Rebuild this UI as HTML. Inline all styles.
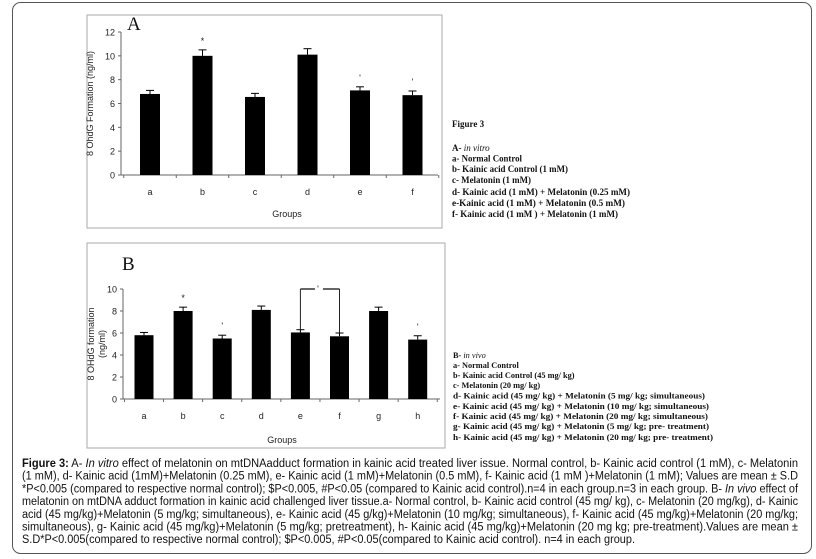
<!DOCTYPE html>
<html><head><meta charset="utf-8"><style>
html,body{margin:0;padding:0;background:#fff}
svg{display:block}
.tk{font:9px "Liberation Sans",sans-serif;fill:#222}
.lg{font:bold 8.3px "Liberation Serif",serif;fill:#111}
.la{font:bold 9px "Liberation Serif",serif;fill:#111}
.cap{font:11.5px "Liberation Sans",sans-serif;fill:#111}
</style></head><body>
<svg id="fig" width="816" height="559" viewBox="0 0 816 559" xmlns="http://www.w3.org/2000/svg">
<rect x="12.5" y="2.5" width="799" height="551" rx="8" fill="#fff" stroke="#555"/>
<rect x="87" y="15" width="355" height="213" fill="#fff" stroke="#aaa"/>
<rect x="87" y="243" width="358" height="205" fill="#fff" stroke="#aaa"/>
<g id="chartA"></g>
<g id="chartB"></g>

<g>
<text class="la" x="452" y="127">Figure 3</text>
<text class="la" x="452" y="151">A- <tspan font-style="italic" font-weight="normal">in vitro</tspan></text>
<text class="la" x="452" y="161.5" textLength="70" lengthAdjust="spacingAndGlyphs">a- Normal Control</text>
<text class="la" x="452" y="172" textLength="116" lengthAdjust="spacingAndGlyphs">b- Kainic acid Control (1 mM)</text>
<text class="la" x="452" y="183" textLength="79" lengthAdjust="spacingAndGlyphs">c- Melatonin (1 mM)</text>
<text class="la" x="452" y="195" textLength="178" lengthAdjust="spacingAndGlyphs">d- Kainic acid (1 mM) + Melatonin (0.25 mM)</text>
<text class="la" x="452" y="206" textLength="173" lengthAdjust="spacingAndGlyphs">e-Kainic acid (1 mM) + Melatonin  (0.5 mM)</text>
<text class="la" x="452" y="217" textLength="166" lengthAdjust="spacingAndGlyphs">f- Kainic acid (1 mM ) + Melatonin (1 mM)</text>
</g>
<g>
<text class="lg" x="453" y="358">B- <tspan font-style="italic" font-weight="normal">in vivo</tspan></text>
<text class="lg" x="453" y="368">a- Normal Control</text>
<text class="lg" x="453" y="378">b- Kainic acid Control (45 mg/ kg)</text>
<text class="lg" x="453" y="388">c- Melatonin (20 mg/ kg)</text>
<text class="lg" x="453" y="398.5" textLength="252" lengthAdjust="spacingAndGlyphs">d- Kainic acid (45 mg/ kg) + Melatonin (5 mg/ kg; simultaneous)</text>
<text class="lg" x="453" y="409" textLength="256" lengthAdjust="spacingAndGlyphs">e- Kainic acid (45 mg/ kg) + Melatonin (10 mg/ kg; simultaneous)</text>
<text class="lg" x="453" y="419" textLength="255" lengthAdjust="spacingAndGlyphs">f- Kainic acid (45 mg/ kg) + Melatonin (20 mg/ kg; simultaneous)</text>
<text class="lg" x="453" y="429" textLength="256" lengthAdjust="spacingAndGlyphs">g- Kainic acid (45 mg/ kg) + Melatonin (5 mg/ kg; pre- treatment)</text>
<text class="lg" x="453" y="440" textLength="260" lengthAdjust="spacingAndGlyphs">h- Kainic acid (45 mg/ kg) + Melatonin (20 mg/ kg; pre- treatment)</text>
</g>
<g>
<text class="cap" x="22" y="467" textLength="776" lengthAdjust="spacingAndGlyphs"><tspan font-weight="bold">Figure 3:</tspan> A- <tspan font-style="italic">In vitro</tspan> effect of melatonin on mtDNAadduct formation in kainic acid treated liver issue. Normal control, b- Kainic acid control (1 mM), c- Melatonin</text>
<text class="cap" x="22" y="479.7" textLength="776" lengthAdjust="spacingAndGlyphs">(1 mM), d- Kainic acid (1mM)+Melatonin (0.25 mM), e- Kainic acid (1 mM)+Melatonin (0.5 mM), f- Kainic acid (1 mM )+Melatonin (1 mM); Values are mean ± S.D</text>
<text class="cap" x="22" y="492.4" textLength="776" lengthAdjust="spacingAndGlyphs">*P&lt;0.005 (compared to respective normal control); $P&lt;0.005, #P&lt;0.05 (compared to Kainic acid control).n=4 in each group.n=3 in each group. B- <tspan font-style="italic">In vivo</tspan> effect of</text>
<text class="cap" x="22" y="505.1" textLength="776" lengthAdjust="spacingAndGlyphs">melatonin on mtDNA adduct formation in kainic acid challenged liver tissue.a- Normal control, b- Kainic acid control (45 mg/ kg), c- Melatonin (20 mg/kg), d- Kainic</text>
<text class="cap" x="22" y="517.8" textLength="776" lengthAdjust="spacingAndGlyphs">acid (45 mg/kg)+Melatonin (5 mg/kg; simultaneous), e- Kainic acid (45 g/kg)+Melatonin (10 mg/kg; simultaneous), f- Kainic acid (45 mg/kg)+Melatonin (20 mg/kg;</text>
<text class="cap" x="22" y="530.5" textLength="776" lengthAdjust="spacingAndGlyphs">simultaneous), g- Kainic acid (45 mg/kg)+Melatonin (5 mg/kg; pretreatment), h- Kainic acid (45 mg/kg)+Melatonin (20 mg kg; pre-treatment).Values are mean ±</text>
<text class="cap" x="22" y="543.2" textLength="613" lengthAdjust="spacingAndGlyphs">S.D*P&lt;0.005(compared to respective normal control); $P&lt;0.005, #P&lt;0.05(compared to Kainic acid control). n=4 in each group.</text>
</g>
</svg>
<script>
const catsA = ['a','b','c','d','e','f'];
const valsA = [6.8, 10.0, 6.55, 10.1, 7.1, 6.7];
const errA = [0.3, 0.5, 0.3, 0.5, 0.3, 0.35];
const marksA = ['', '*', '', '', "'", "'"];
const ticksA = [0, 2, 4, 6, 8, 10, 12];

const catsB = ['a','b','c','d','e','f','g','h'];
const valsB = [5.8, 8.0, 5.5, 8.1, 6.05, 5.7, 8.0, 5.4];
const errB = [0.25, 0.35, 0.3, 0.35, 0.25, 0.3, 0.35, 0.35];
const marksB = ['', '*', "'", '', '', '', '', "'"];
const ticksB = [0, 2, 4, 6, 8, 10];
const bracketB = {from: 4, to: 5, level: 10};

const NS = 'http://www.w3.org/2000/svg';
function mk(parent, tag, attrs, txt) {
  const e = document.createElementNS(NS, tag);
  for (const k in attrs) e.setAttribute(k, attrs[k]);
  if (txt !== undefined) e.textContent = txt;
  parent.appendChild(e);
  return e;
}
function drawChart(g, cfg) {
  const yS = v => cfg.y0 - (v - cfg.min) / (cfg.max - cfg.min) * (cfg.y0 - cfg.y1);
  const xS = i => cfg.x0 + cfg.first + i * cfg.step;
  let e = mk(g, 'line', {x1: cfg.ax, y1: yS(cfg.max), x2: cfg.ax, y2: cfg.y0, stroke: '#666'});
  
  
  e = mk(g, 'line', {x1: cfg.ax, y1: cfg.y0, x2: cfg.xend, y2: cfg.y0, stroke: '#666'});
  
  
  cfg.ticks.forEach(t => {
    const y = yS(t);
    let l = mk(g, 'line', {x1: cfg.ax - 3, y1: y, x2: cfg.ax, y2: y, stroke: '#666'});
    
    
    let tx = mk(g, 'text', {x: cfg.ax - 6, y: y + 3.5, 'text-anchor': 'end', class: 'tk'}, String(t));
    
    
  });
  for (let i = 0; i <= cfg.cats.length; i++) {
    const x = xS(i) - cfg.step / 2;
    let l = mk(g, 'line', {x1: x, y1: cfg.y0, x2: x, y2: cfg.y0 + 3, stroke: '#666'});
    
    
  }
  cfg.cats.forEach((c, i) => {
    const x = xS(i), v = cfg.vals[i], top = yS(v);
    const et = yS(v + cfg.err[i]);
    let el = mk(g, 'line', {x1: x, y1: top, x2: x, y2: et, stroke: '#000'});
    
    
    el = mk(g, 'line', {x1: x - 4, y1: et, x2: x + 4, y2: et, stroke: '#000'});
    
    
    let r = mk(g, 'rect', {x: x - cfg.bw / 2, y: top, width: cfg.bw, height: cfg.y0 - top, fill: '#000'});
    
    
    let t = mk(g, 'text', {x: x, y: cfg.y0 + 20, 'text-anchor': 'middle', class: 'tk', 'font-size': '10'}, c);
    
    
    if (cfg.marks[i]) {
      let m = mk(g, 'text', {x: x, y: et - 6, 'text-anchor': 'middle', class: 'tk', 'font-size': '9'}, cfg.marks[i]);
      
      
    }
  });
  const xt = mk(g, 'text', {x: cfg.gx, y: cfg.gy, 'text-anchor': 'middle', class: 'tk', 'font-size': '11'}, 'Groups');
  
  
  const cy = (yS(cfg.max) + cfg.y0) / 2;
  const yt = mk(g, 'text', {x: cfg.tx, y: cy, 'text-anchor': 'middle', class: 'tk', 'font-weight': 'bold', 'font-size': '9', transform: 'rotate(-90 ' + cfg.tx + ' ' + cy + ')'});
  cfg.ytitle.forEach((s, k) => {
    mk(yt, 'tspan', {x: cfg.tx, dy: k === 0 ? (cfg.ytitle.length > 1 ? -3 : 0) : 11}, s);
  });
  
  
  const pl = mk(g, 'text', {x: cfg.lx, y: cfg.ly, 'font-family': 'Liberation Serif, serif', 'font-size': '19', fill: '#111'}, cfg.label);
  
  
  return {xS, yS};
}
const A = drawChart(document.getElementById('chartA'), {
  cats: catsA, vals: valsA, err: errA, marks: marksA, ticks: ticksA, min: 0, max: 12,
  ax: 121, y0: 175, y1: 32, x0: 121, first: 29, step: 52.5, xend: 438, bw: 20,
  gx: 287, gy: 217, tx: 93, ytitle: ['8 OhdG Formation (ng/ml)'], label: 'A', lx: 127, ly: 30
});
const B = drawChart(document.getElementById('chartB'), {
  cats: catsB, vals: valsB, err: errB, marks: marksB, ticks: ticksB, min: 0, max: 10,
  ax: 123, y0: 399, y1: 289, x0: 123, first: 21, step: 39.1, xend: 440, bw: 19,
  gx: 282, gy: 443, tx: 97, ytitle: ['8  OHdG formation', '(ng/ml)'], label: 'B', lx: 122, ly: 270
});
(function () {
  const g = document.getElementById('chartB');
  const x1 = B.xS(bracketB.from), x2 = B.xS(bracketB.to), y = B.yS(bracketB.level);
  const mid = (x1 + x2) / 2;
  let v1 = mk(g, 'line', {x1: x1, y1: y, x2: x1, y2: B.yS(valsB[bracketB.from] + errB[bracketB.from]), stroke: '#222'});
  
  
  let v2 = mk(g, 'line', {x1: x2, y1: y, x2: x2, y2: B.yS(valsB[bracketB.to] + errB[bracketB.to]), stroke: '#222'});
  
  
  let h1 = mk(g, 'line', {x1: x1, y1: y, x2: mid - 5, y2: y, stroke: '#333', 'stroke-width': '1.5'});
  
  
  let h2 = mk(g, 'line', {x1: mid + 3, y1: y, x2: x2, y2: y, stroke: '#333', 'stroke-width': '1.5'});
  
  
  let m = mk(g, 'text', {x: mid - 2, y: y + 3, 'text-anchor': 'middle', class: 'tk'}, "'");
  
  
})();
</script>
</body></html>
